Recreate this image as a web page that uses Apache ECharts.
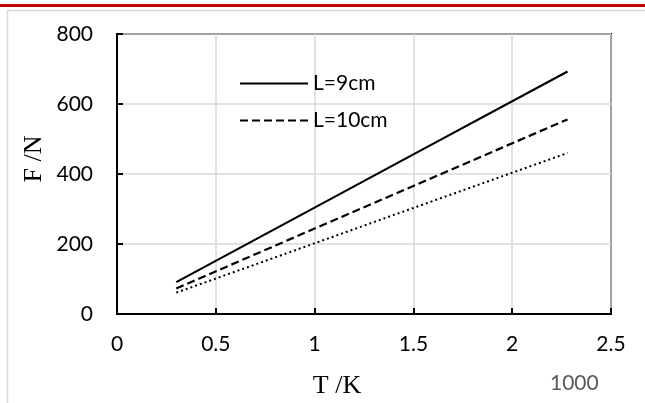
<!DOCTYPE html>
<html>
<head>
<meta charset="utf-8">
<script src="https://cdn.jsdelivr.net/npm/echarts@6/dist/echarts.min.js"></script>
<style>
html, body { margin: 0; padding: 0; background: #fff; }
#chart { width: 645px; height: 403px; }
</style>
</head>
<body>
<div id="chart"></div>
<script>
// values (T/1000 K vs F in N)
var tValues = [0.3, 1.0, 1.5, 2.28]
var f9cm = [91, 304, 456, 693]
var f10cm = [73, 244, 366, 556]
var fThird = [61, 202, 303, 460]
var legendNames = ['L=9cm', 'L=10cm']

function pairs (xs, ys) {
  var out = []
  for (var i = 0; i < xs.length; i++) out.push([xs[i], ys[i]])
  return out
}

var myChart = echarts.init(document.getElementById('chart'))
var tickFont = 'Lato, "Open Sans", sans-serif'
var serifFont = '"Liberation Serif", serif'

var option = {
  backgroundColor: '#fff',
  animation: false,
  graphic: [
    { type: 'rect', shape: { x: 0, y: 4, width: 645, height: 3 }, style: { fill: '#c00000' } },
    { type: 'line', shape: { x1: 7.5, y1: 10, x2: 7.5, y2: 403 }, style: { stroke: '#d9d9d9', lineWidth: 1.5 } },
    { type: 'line', shape: { x1: 7, y1: 10.5, x2: 645, y2: 10.5 }, style: { stroke: '#d9d9d9', lineWidth: 1.5 } },
    { type: 'text', x: 550, y: 373, style: { text: '1000', fill: '#595959', font: '21px ' + tickFont } },
    { type: 'text', x: 337, y: 386, style: { text: 'T /K', fill: '#000', font: '26px ' + serifFont, textAlign: 'center', textVerticalAlign: 'middle' } },
    { type: 'text', x: 34, y: 159, rotation: Math.PI / 2, style: { text: 'F /N', fill: '#000', font: '26px ' + serifFont, textAlign: 'center', textVerticalAlign: 'middle' } }
  ],
  legend: {
    data: legendNames,
    orient: 'vertical',
    left: 234,
    top: 68,
    itemWidth: 68,
    itemHeight: 20,
    itemGap: 16,
    itemStyle: { opacity: 0 },
    textStyle: { fontFamily: tickFont, fontSize: 21, color: '#000', lineHeight: 20 }
  },
  grid: {
    left: 117,
    right: 34,
    top: 34,
    bottom: 89,
    show: true,
    borderColor: '#000',
    borderWidth: 2
  },
  xAxis: {
    type: 'value',
    min: 0,
    max: 2.5,
    interval: 0.5,
    axisLine: { lineStyle: { color: '#000', width: 2 } },
    axisTick: { inside: true, length: 6, lineStyle: { color: '#000', width: 2 } },
    axisLabel: { margin: 20, fontFamily: tickFont, fontSize: 21, color: '#000' },
    splitLine: { show: true, lineStyle: { color: '#d9d9d9', width: 1.5 } }
  },
  yAxis: {
    type: 'value',
    min: 0,
    max: 800,
    interval: 200,
    axisLine: { show: true, lineStyle: { color: '#000', width: 2 } },
    axisTick: { show: true, inside: true, length: 6, lineStyle: { color: '#000', width: 2 } },
    axisLabel: { margin: 24, fontFamily: tickFont, fontSize: 21, color: '#000' },
    splitLine: { show: true, lineStyle: { color: '#d9d9d9', width: 1.5 } }
  },
  series: [
    {
      name: 'L=9cm',
      type: 'line',
      symbol: 'none',
      data: pairs(tValues, f9cm),
      lineStyle: { color: '#000', width: 2.2, type: 'solid' },
      itemStyle: { color: '#000' }
    },
    {
      name: 'L=10cm',
      type: 'line',
      symbol: 'none',
      data: pairs(tValues, f10cm),
      lineStyle: { color: '#000', width: 2.2, type: [8, 4] },
      itemStyle: { color: '#000' }
    },
    {
      name: 'third',
      type: 'line',
      symbol: 'none',
      data: pairs(tValues, fThird),
      lineStyle: { color: '#000', width: 2, type: [2, 3] },
      itemStyle: { color: '#000' }
    }
  ]
}

myChart.setOption(option)
</script>
</body>
</html>
